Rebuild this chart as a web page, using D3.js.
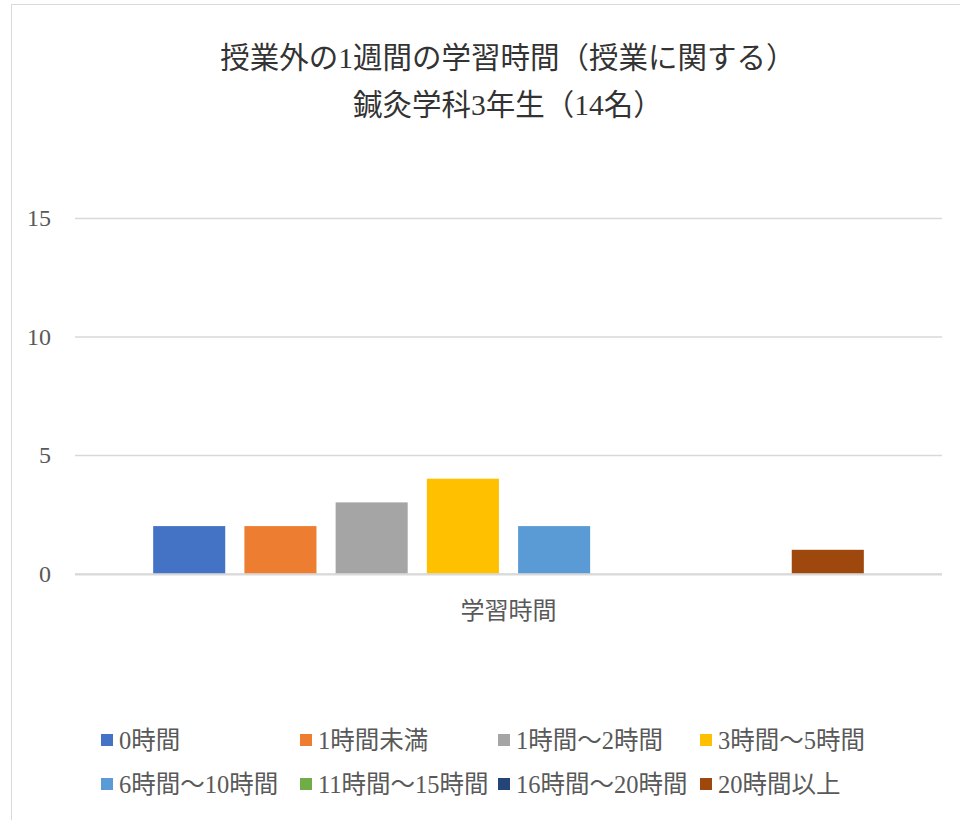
<!DOCTYPE html>
<html>
<head>
<meta charset="utf-8">
<script src="https://cdn.jsdelivr.net/npm/d3@7"></script>
<style>
  body { margin: 0; background: #fff; }
  svg text { font-family: "Liberation Serif", "Noto Sans CJK JP", serif; }
</style>
</head>
<body>
<svg id="chart" width="960" height="820"></svg>
<script>
const width = 960;
const height = 820;

const category = ["学習時間"];
const series = ["0時間", "1時間未満", "1時間～2時間", "3時間～5時間",
  "6時間～10時間", "11時間～15時間", "16時間～20時間", "20時間以上"];
const values = [2, 2, 3, 4, 2, 0, 0, 1];
const colors = ["#4472C4", "#ED7D31", "#A5A5A5", "#FFC000",
  "#5B9BD5", "#70AD47", "#264478", "#9E480E"];
const yTicks = [0, 5, 10, 15];
const titleLines = ["授業外の1週間の学習時間（授業に関する）", "鍼灸学科3年生（14名）"];

const svg = d3.select("#chart");

// chart frame
svg.append("rect")
  .attr("x", 11.5).attr("y", 4.5)
  .attr("width", 960).attr("height", 830)
  .attr("fill", "#fff")
  .attr("stroke", "#d9d9d9");

const plot = { left: 75, right: 942, top: 218, bottom: 573.5 };

const y = d3.scaleLinear().domain([0, 15]).range([plot.bottom, plot.top]);
const x0 = d3.scaleBand().domain(category).range([plot.left, plot.right])
  .paddingInner(0).paddingOuter(0.11);
const x1 = d3.scaleBand().domain(series).range([0, x0.bandwidth()])
  .paddingInner(0.21).paddingOuter(0);

// gridlines
const yAxis = d3.axisLeft(y).tickValues(yTicks)
  .tickSize(-(plot.right - plot.left)).tickPadding(24);
const gy = svg.append("g")
  .attr("transform", `translate(${plot.left},0)`)
  .call(yAxis);
gy.select(".domain").remove();
gy.selectAll(".tick line").attr("stroke", "#d9d9d9").attr("stroke-width", 1.3);
gy.selectAll(".tick text")
  .attr("fill", "#595959")
  .style("font-size", "24px");

// bars
const g = svg.append("g");
g.selectAll("rect")
  .data(series.map((s, i) => ({ s, v: values[i], c: colors[i] })))
  .join("rect")
  .attr("x", d => x0(category[0]) + x1(d.s))
  .attr("y", d => y(d.v))
  .attr("width", x1.bandwidth())
  .attr("height", d => y(0) - y(d.v))
  .attr("fill", d => d.c);

// baseline
svg.append("line")
  .attr("x1", plot.left).attr("x2", plot.right)
  .attr("y1", y(0) + 1).attr("y2", y(0) + 1)
  .attr("stroke", "#d9d9d9").attr("stroke-width", 2);

// category label
svg.append("text")
  .attr("x", x0(category[0]) + x0.bandwidth() / 2)
  .attr("y", 619)
  .attr("text-anchor", "middle")
  .attr("fill", "#595959")
  .style("font-size", "24px")
  .text(category[0]);

// title
svg.selectAll(".title")
  .data(titleLines)
  .join("text")
  .attr("class", "title")
  .attr("x", 508)
  .attr("y", (d, i) => 68 + i * 47)
  .attr("text-anchor", "middle")
  .attr("fill", "#333")
  .style("font-size", "29.5px")
  .text(d => d);

// legend
const legendX = [101, 300, 498, 700];
const legendY = [740, 784];
const legend = svg.append("g")
  .selectAll("g")
  .data(series)
  .join("g")
  .attr("transform", (d, i) => `translate(${legendX[i % 4]},${legendY[Math.floor(i / 4)]})`);
legend.append("rect")
  .attr("x", 0).attr("y", -6)
  .attr("width", 12).attr("height", 12)
  .attr("fill", (d, i) => colors[i]);
legend.append("text")
  .attr("x", 18).attr("y", 8.5)
  .attr("fill", "#595959")
  .style("font-size", "24.5px")
  .text(d => d);
</script>
</body>
</html>
